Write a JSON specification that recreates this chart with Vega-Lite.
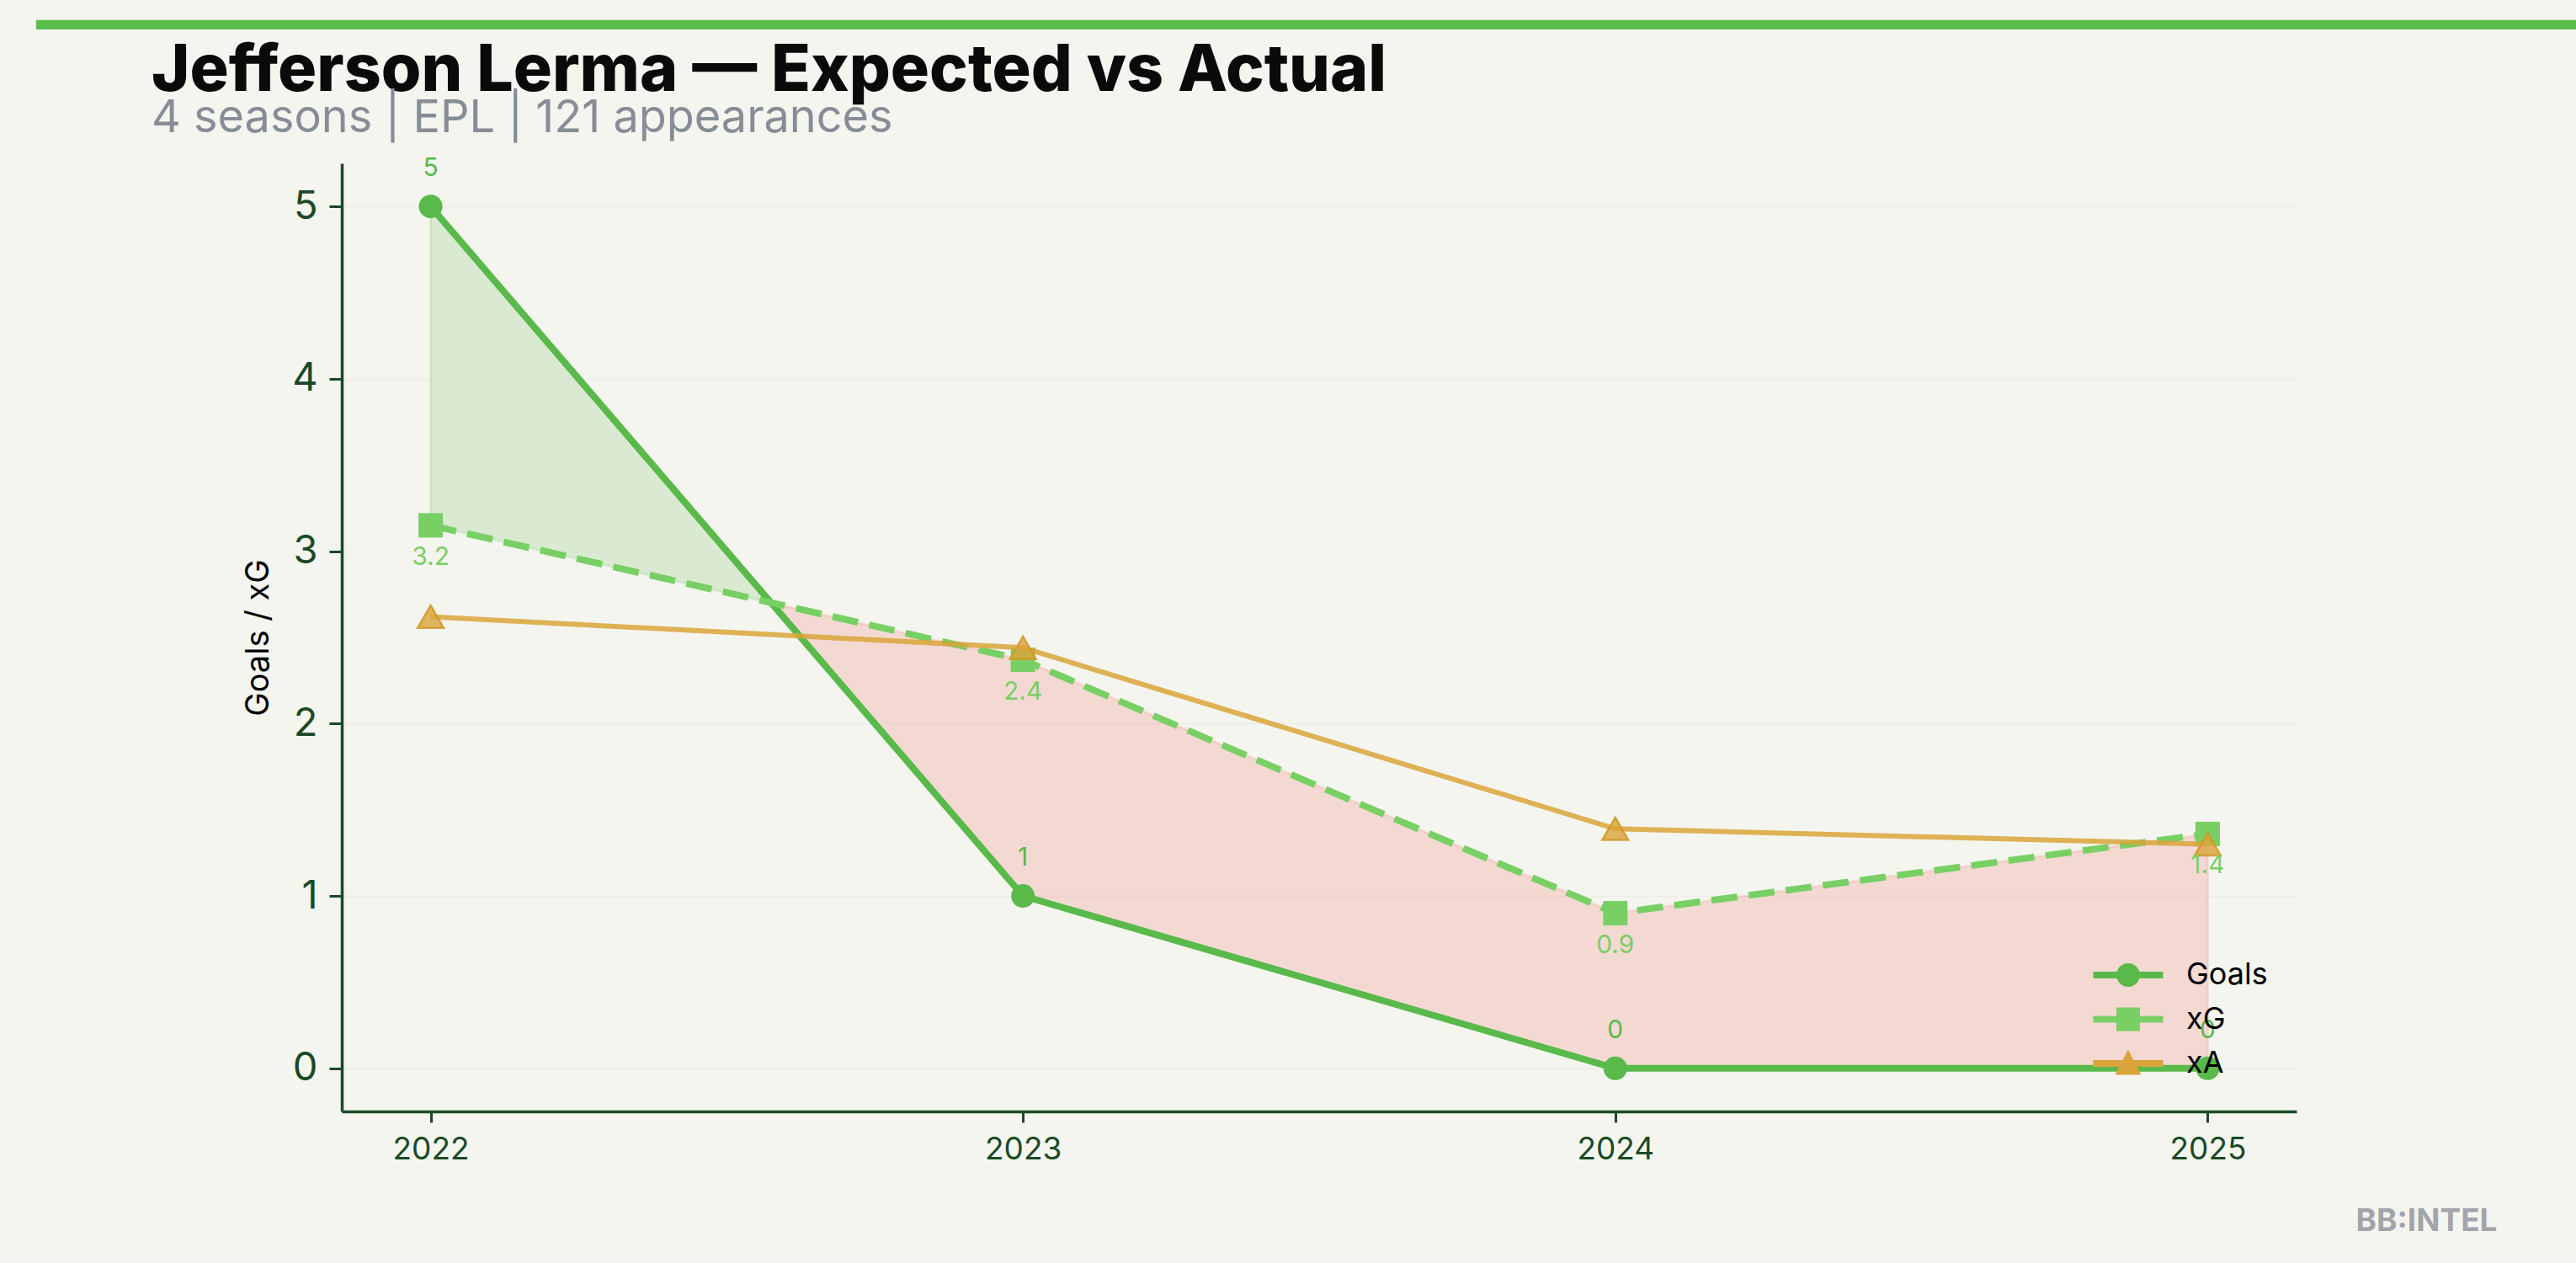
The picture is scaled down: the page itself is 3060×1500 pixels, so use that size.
{
  "$schema": "https://vega.github.io/schema/vega-lite/v6.json",
  "width": 2322,
  "height": 1126,
  "autosize": {"type": "none"},
  "padding": {"left": 406, "top": 194, "right": 332, "bottom": 180},
  "background": "#f4f5ef",
  "config": {"view": {"stroke": null}, "font": "Inter"},
  "title": {
    "text": "Jefferson Lerma — Expected vs Actual",
    "subtitle": "4 seasons | EPL | 121 appearances",
    "anchor": "start",
    "frame": "group",
    "dx": -226,
    "offset": -145,
    "font": "Inter",
    "fontSize": 77,
    "fontWeight": 800,
    "color": "#0a0a0a",
    "subtitleFont": "Inter",
    "subtitleFontSize": 54,
    "subtitleFontWeight": "normal",
    "subtitleColor": "#878d96",
    "subtitlePadding": -10
  },
  "datasets": {
    "stats": [
      {"season": 2022, "goals": 5, "xg": 3.15, "xa": 2.62, "goalsLabel": "5", "xgLabel": "3.2"},
      {"season": 2023, "goals": 1, "xg": 2.37, "xa": 2.44, "goalsLabel": "1", "xgLabel": "2.4"},
      {"season": 2024, "goals": 0, "xg": 0.9, "xa": 1.39, "goalsLabel": "0", "xgLabel": "0.9"},
      {"season": 2025, "goals": 0, "xg": 1.36, "xa": 1.3, "goalsLabel": "0", "xgLabel": "1.4"}
    ],
    "fillGreen": [
      {"season": 2022, "upper": 5, "lower": 3.15},
      {"season": 2022.574, "upper": 2.7, "lower": 2.7}
    ],
    "fillRed": [
      {"season": 2022.574, "upper": 2.7, "lower": 2.7},
      {"season": 2023, "upper": 2.37, "lower": 1},
      {"season": 2024, "upper": 0.9, "lower": 0},
      {"season": 2025, "upper": 1.36, "lower": 0}
    ],
    "series": [
      {"series": "Goals"},
      {"series": "xG"},
      {"series": "xA"}
    ],
    "one": [{"k": 1}]
  },
  "layer": [
    {
      "data": {"name": "fillGreen"},
      "mark": {"type": "area", "fill": "#59b94a", "fillOpacity": 0.17, "stroke": "#59b94a", "strokeOpacity": 0.15, "strokeWidth": 3},
      "encoding": {
        "x": {
          "field": "season", "type": "quantitative",
          "scale": {"domain": [2021.85, 2025.15], "nice": false, "zero": false},
          "axis": {
            "title": null, "values": [2022, 2023, 2024, 2025], "format": "d",
            "labelFontSize": 37, "labelColor": "#1a4a25", "labelPadding": 14, "labelFlush": false, "labelOverlap": false,
            "tickSize": 13, "tickWidth": 3, "tickColor": "#1a4a25",
            "domainColor": "#1a4a25", "domainWidth": 3.5, "grid": false
          }
        },
        "y": {
          "field": "upper", "type": "quantitative",
          "scale": {"domain": [-0.25, 5.25], "nice": false, "zero": false},
          "axis": {
            "title": "Goals / xG", "titleFontSize": 38, "titleFontWeight": "normal", "titleColor": "#000000", "titleFont": "Inter", "titlePadding": 20,
            "values": [0, 1, 2, 3, 4, 5], "format": "d",
            "labelFontSize": 47, "labelColor": "#1a4a25", "labelPadding": 14,
            "tickSize": 15, "tickWidth": 3, "tickColor": "#1a4a25",
            "domainColor": "#1a4a25", "domainWidth": 3.5,
            "grid": true, "gridColor": "#ecede6", "gridWidth": 1.5
          }
        },
        "y2": {"field": "lower"}
      }
    },
    {
      "data": {"name": "fillRed"},
      "mark": {"type": "area", "fill": "#f5605c", "fillOpacity": 0.19, "stroke": "#f5605c", "strokeOpacity": 0.15, "strokeWidth": 3},
      "encoding": {
        "x": {"field": "season", "type": "quantitative", "scale": {"domain": [2021.85, 2025.15], "nice": false, "zero": false}},
        "y": {"field": "upper", "type": "quantitative", "scale": {"domain": [-0.25, 5.25], "nice": false, "zero": false}},
        "y2": {"field": "lower"}
      }
    },
    {
      "data": {"name": "stats"},
      "mark": {"type": "line", "color": "#59b94a", "strokeWidth": 8},
      "encoding": {
        "x": {"field": "season", "type": "quantitative", "scale": {"domain": [2021.85, 2025.15], "nice": false, "zero": false}},
        "y": {"field": "goals", "type": "quantitative", "scale": {"domain": [-0.25, 5.25], "nice": false, "zero": false}}
      }
    },
    {
      "data": {"name": "stats"},
      "mark": {"type": "point", "shape": "circle", "filled": true, "color": "#59b94a", "opacity": 1, "size": 784},
      "encoding": {
        "x": {"field": "season", "type": "quantitative", "scale": {"domain": [2021.85, 2025.15], "nice": false, "zero": false}},
        "y": {"field": "goals", "type": "quantitative", "scale": {"domain": [-0.25, 5.25], "nice": false, "zero": false}}
      }
    },
    {
      "data": {"name": "stats"},
      "mark": {"type": "line", "color": "#78d064", "strokeWidth": 8, "strokeDash": [31, 13.5]},
      "encoding": {
        "x": {"field": "season", "type": "quantitative", "scale": {"domain": [2021.85, 2025.15], "nice": false, "zero": false}},
        "y": {"field": "xg", "type": "quantitative", "scale": {"domain": [-0.25, 5.25], "nice": false, "zero": false}}
      }
    },
    {
      "data": {"name": "stats"},
      "mark": {"type": "point", "shape": "square", "filled": true, "color": "#78d064", "opacity": 1, "size": 841},
      "encoding": {
        "x": {"field": "season", "type": "quantitative", "scale": {"domain": [2021.85, 2025.15], "nice": false, "zero": false}},
        "y": {"field": "xg", "type": "quantitative", "scale": {"domain": [-0.25, 5.25], "nice": false, "zero": false}}
      }
    },
    {
      "data": {"name": "stats"},
      "mark": {"type": "line", "color": "#d9a43a", "strokeWidth": 6, "opacity": 0.85},
      "encoding": {
        "x": {"field": "season", "type": "quantitative", "scale": {"domain": [2021.85, 2025.15], "nice": false, "zero": false}},
        "y": {"field": "xa", "type": "quantitative", "scale": {"domain": [-0.25, 5.25], "nice": false, "zero": false}}
      }
    },
    {
      "data": {"name": "stats"},
      "mark": {"type": "point", "shape": "triangle-up", "filled": true, "fill": "#d9a43a", "fillOpacity": 0.8, "stroke": "#d19826", "strokeWidth": 2.5, "strokeOpacity": 0.85, "size": 950},
      "encoding": {
        "x": {"field": "season", "type": "quantitative", "scale": {"domain": [2021.85, 2025.15], "nice": false, "zero": false}},
        "y": {"field": "xa", "type": "quantitative", "scale": {"domain": [-0.25, 5.25], "nice": false, "zero": false}}
      }
    },
    {
      "data": {"name": "stats"},
      "mark": {"type": "text", "color": "#59b94a", "fontSize": 30, "font": "Inter", "align": "center", "baseline": "middle", "dy": -45},
      "encoding": {
        "x": {"field": "season", "type": "quantitative", "scale": {"domain": [2021.85, 2025.15], "nice": false, "zero": false}},
        "y": {"field": "goals", "type": "quantitative", "scale": {"domain": [-0.25, 5.25], "nice": false, "zero": false}},
        "text": {"field": "goalsLabel"}
      }
    },
    {
      "data": {"name": "stats"},
      "mark": {"type": "text", "color": "#78d064", "fontSize": 30, "font": "Inter", "align": "center", "baseline": "middle", "dy": 38},
      "encoding": {
        "x": {"field": "season", "type": "quantitative", "scale": {"domain": [2021.85, 2025.15], "nice": false, "zero": false}},
        "y": {"field": "xg", "type": "quantitative", "scale": {"domain": [-0.25, 5.25], "nice": false, "zero": false}},
        "text": {"field": "xgLabel"}
      }
    },
    {
      "data": {"name": "series"},
      "mark": {"type": "point", "filled": true, "opacity": 0},
      "encoding": {
        "color": {
          "field": "series", "type": "nominal",
          "scale": {"domain": ["Goals", "xG", "xA"], "range": ["#59b94a", "#78d064", "#d9a43a"]},
          "legend": {
            "title": null, "orient": "none", "legendX": 2097, "legendY": 939, "direction": "vertical",
            "symbolSize": 2500, "symbolOpacity": 1, "symbolStrokeWidth": 0,
            "labelFont": "Inter", "labelFontSize": 36, "labelColor": "#000000", "labelOffset": 44,
            "rowPadding": 9.5, "padding": 0
          }
        },
        "shape": {
          "field": "series", "type": "nominal",
          "scale": {
            "domain": ["Goals", "xG", "xA"],
            "range": [
              "M-1.66,-0.16L1.66,-0.16L1.66,0.16L-1.66,0.16Z M0.56,0A0.56,0.56 0 0,1 -0.56,0A0.56,0.56 0 0,1 0.56,0Z",
              "M-1.66,-0.16L1.66,-0.16L1.66,0.16L-1.66,0.16Z M-0.56,-0.56L0.56,-0.56L0.56,0.56L-0.56,0.56Z",
              "M-1.66,-0.16L1.66,-0.16L1.66,0.16L-1.66,0.16Z M0,-0.66L0.62,0.54L-0.62,0.54Z"
            ]
          },
          "legend": {
            "title": null, "orient": "none", "legendX": 2097, "legendY": 939, "direction": "vertical",
            "symbolSize": 2500, "symbolOpacity": 1, "symbolStrokeWidth": 0,
            "labelFont": "Inter", "labelFontSize": 36, "labelColor": "#000000", "labelOffset": 44,
            "rowPadding": 9.5, "padding": 0
          }
        }
      }
    },
    {
      "data": {"name": "one"},
      "mark": {"type": "rect", "color": "#5bbb4b"},
      "encoding": {
        "x": {"datum": 2021.334, "type": "quantitative", "scale": {"domain": [2021.85, 2025.15], "nice": false, "zero": false}},
        "x2": {"datum": 2025.7},
        "y": {"datum": 6.081, "type": "quantitative", "scale": {"domain": [-0.25, 5.25], "nice": false, "zero": false}},
        "y2": {"datum": 6.027}
      }
    },
    {
      "data": {"name": "one"},
      "mark": {"type": "text", "text": "BB:INTEL", "font": "Inter", "fontWeight": "bold", "fontSize": 37, "color": "#a1a5ab", "align": "right", "baseline": "alphabetic"},
      "encoding": {
        "x": {"datum": 2025.489, "type": "quantitative", "scale": {"domain": [2021.85, 2025.15], "nice": false, "zero": false}},
        "y": {"datum": -0.945, "type": "quantitative", "scale": {"domain": [-0.25, 5.25], "nice": false, "zero": false}}
      }
    }
  ]
}
